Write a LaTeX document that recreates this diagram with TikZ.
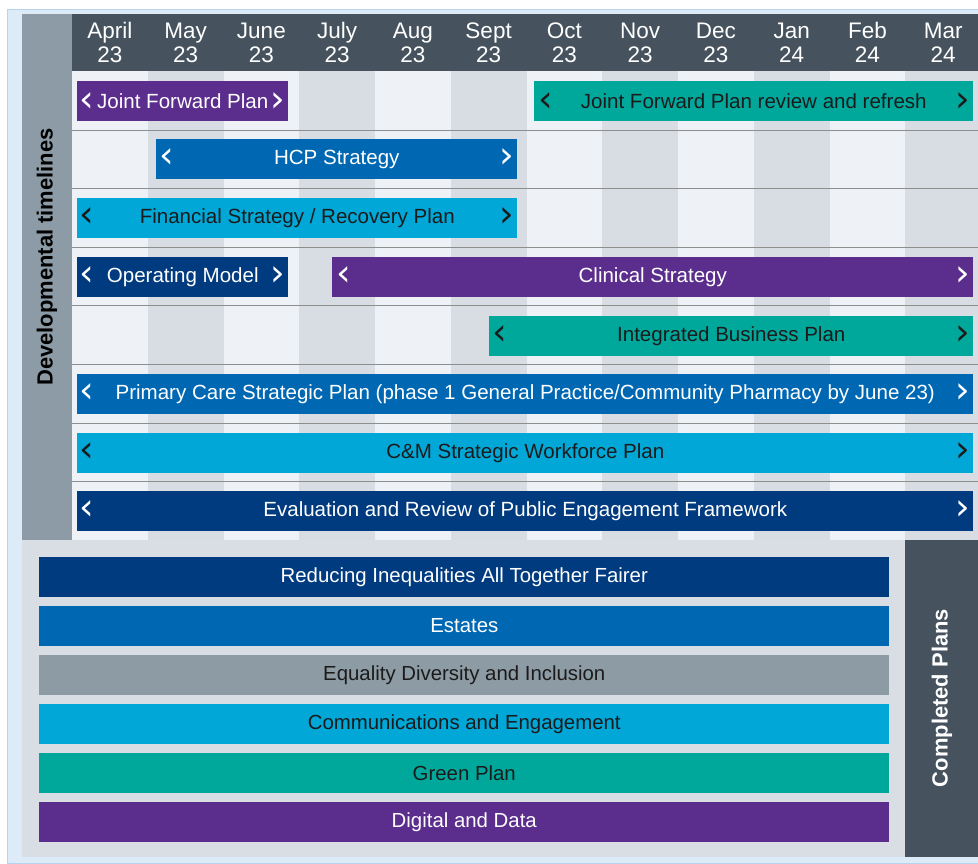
\documentclass[tikz,border=0pt]{standalone}
\usepackage{fontspec}
\setmainfont{Liberation Sans}
\newfontfamily\chevfont{DejaVu Sans}
\usetikzlibrary{positioning}

\definecolor{framebg}{HTML}{DDEBF8}
\definecolor{frameline}{HTML}{B7D2EC}
\definecolor{slate}{HTML}{46535E}
\definecolor{sidegrey}{HTML}{8C9BA5}
\definecolor{collight}{HTML}{EEF2F6}
\definecolor{coldark}{HTML}{D8DDE4}
\definecolor{lowerbg}{HTML}{D9DEE5}
\definecolor{rulegrey}{HTML}{8E8E8E}
\definecolor{planviolet}{HTML}{5B2D8C}
\definecolor{planteal}{HTML}{00A89C}
\definecolor{planblue}{HTML}{0068B3}
\definecolor{plancyan}{HTML}{00A7D7}
\definecolor{plannavy}{HTML}{003B7F}
\definecolor{plangrey}{HTML}{8D9BA4}
\definecolor{ink}{HTML}{1B1B1B}

\newcommand{\pxu}{0.025cm}

\tikzset{
  month/.style={text=white, align=center, inner sep=0pt,
    font=\fontsize{16}{17}\selectfont},
  plan/.style={anchor=west, minimum height=40*\pxu, inner sep=0pt,
    font=\fontsize{14.6}{17}\selectfont},
  done/.style={anchor=west, minimum height=40*\pxu, minimum width=850*\pxu,
    inner sep=0pt, font=\fontsize{14.5}{17}\selectfont},
  chev/.style={anchor=base, yshift=-3*\pxu, inner sep=0pt,
    font=\chevfont\fontsize{26}{28}\selectfont},
  lite/.style={text=white},
  dark/.style={text=ink},
  rule/.style={draw=rulegrey, line width=0.7pt},
  sidelabel/.style={rotate=90, inner sep=0pt, font=\fontsize{15.6}{17}\selectfont\bfseries}
}

\begin{document}
\begin{tikzpicture}[x=0.025cm, y=-0.025cm]
  \useasboundingbox (0,0) rectangle (978,863);
  \fill[white] (0,0) rectangle (978,863);
  \draw[fill=framebg, draw=frameline] (7,9) rectangle (978,863);

  % side bar and month header
  \fill[sidegrey] (22,14) rectangle (72,540);
  \fill[slate] (72,14) rectangle (978,71);
  \node[sidelabel] (devlab) at (47,257) {Developmental timelines};

  % month columns
  \foreach \mon/\yr [count=\i from 0] in {April/23, May/23, June/23, July/23, Aug/23, Sept/23,
      Oct/23, Nov/23, Dec/23, Jan/24, Feb/24, Mar/24} {
    \pgfmathsetmacro{\xl}{72+75.75*\i}
    \pgfmathsetmacro{\xr}{min(72+75.75*(\i+1),978)}
    \pgfmathsetmacro{\xc}{72+75.75*(\i+0.5)}
    \ifodd\i \def\colfill{coldark}\else \def\colfill{collight}\fi
    \fill[\colfill] (\xl,71) rectangle (\xr,540);
    \node[month] (m\i) at (\xc,46) {\strut\mon\\\strut\yr};
  }

  % row rules
  \foreach \k in {0,...,6}
    \draw[rule] (72,{130+58.6*\k}) -- (978,{130+58.6*\k});

  % developmental timelines
  \node[plan, lite, fill=planviolet, minimum width=211*\pxu] (jfp) at (77,101) {Joint Forward Plan};
  \node[chev, lite] (jfpL) at ([xshift=10*\pxu]jfp.base west) {‹};
  \node[chev, lite] (jfpR) at ([xshift=-11*\pxu]jfp.base east) {›};

  \node[plan, dark, fill=planteal, minimum width=439*\pxu] (jfprev) at (534,101) {Joint Forward Plan review and refresh};
  \node[chev, dark] (jfprevL) at ([xshift=12*\pxu]jfprev.base west) {‹};
  \node[chev, dark] (jfprevR) at ([xshift=-11*\pxu]jfprev.base east) {›};

  \node[plan, lite, fill=planblue, minimum width=361*\pxu] (hcp) at (156,159) {HCP Strategy};
  \node[chev, lite] (hcpL) at ([xshift=11*\pxu]hcp.base west) {‹};
  \node[chev, lite] (hcpR) at ([xshift=-11*\pxu]hcp.base east) {›};

  \node[plan, dark, fill=plancyan, minimum width=440*\pxu] (fin) at (77,218) {Financial Strategy / Recovery Plan};
  \node[chev, dark] (finL) at ([xshift=10*\pxu]fin.base west) {‹};
  \node[chev, dark] (finR) at ([xshift=-11*\pxu]fin.base east) {›};

  \node[plan, lite, fill=plannavy, minimum width=211*\pxu] (opm) at (77,277) {Operating Model};
  \node[chev, lite] (opmL) at ([xshift=10*\pxu]opm.base west) {‹};
  \node[chev, lite] (opmR) at ([xshift=-11*\pxu]opm.base east) {›};

  \node[plan, lite, fill=planviolet, minimum width=641*\pxu] (clin) at (332,277) {Clinical Strategy};
  \node[chev, lite] (clinL) at ([xshift=12*\pxu]clin.base west) {‹};
  \node[chev, lite] (clinR) at ([xshift=-11*\pxu]clin.base east) {›};

  \node[plan, dark, fill=planteal, minimum width=484*\pxu] (ibp) at (489,336) {Integrated Business Plan};
  \node[chev, dark] (ibpL) at ([xshift=11*\pxu]ibp.base west) {‹};
  \node[chev, dark] (ibpR) at ([xshift=-11*\pxu]ibp.base east) {›};

  \node[plan, lite, fill=planblue, minimum width=896*\pxu] (pcsp) at (77,394) {Primary Care Strategic Plan (phase 1 General Practice/Community Pharmacy by June 23)};
  \node[chev, lite] (pcspL) at ([xshift=10*\pxu]pcsp.base west) {‹};
  \node[chev, lite] (pcspR) at ([xshift=-11*\pxu]pcsp.base east) {›};

  \node[plan, dark, fill=plancyan, minimum width=896*\pxu] (cmwf) at (77,453) {C\&M Strategic Workforce Plan};
  \node[chev, dark] (cmwfL) at ([xshift=10*\pxu]cmwf.base west) {‹};
  \node[chev, dark] (cmwfR) at ([xshift=-11*\pxu]cmwf.base east) {›};

  \node[plan, lite, fill=plannavy, minimum width=896*\pxu] (pef) at (77,511) {Evaluation and Review of Public Engagement Framework};
  \node[chev, lite] (pefL) at ([xshift=10*\pxu]pef.base west) {‹};
  \node[chev, lite] (pefR) at ([xshift=-11*\pxu]pef.base east) {›};

  % completed plans
  \fill[lowerbg] (22,540) rectangle (905,857);
  \fill[slate] (905,540) rectangle (978,857);
  \node[sidelabel, text=white] (donelab) at (942,698) {Completed Plans};

  \node[done, lite, fill=plannavy] (rif) at (39,577) {Reducing Inequalities All Together Fairer};
  \node[done, lite, fill=planblue] (est) at (39,626) {Estates};
  \node[done, dark, fill=plangrey] (edi) at (39,675) {Equality Diversity and Inclusion};
  \node[done, dark, fill=plancyan] (comms) at (39,724) {Communications and Engagement};
  \node[done, dark, fill=planteal] (green) at (39,773) {Green Plan};
  \node[done, lite, fill=planviolet] (digi) at (39,822) {Digital and Data};
\end{tikzpicture}
\end{document}
